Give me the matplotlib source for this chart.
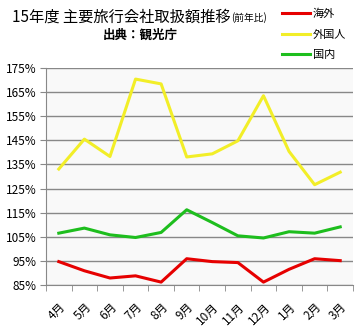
import matplotlib.pyplot as plt
from matplotlib.ticker import FixedLocator

plt.rcParams['font.family'] = ['Noto Sans CJK JP', 'DejaVu Sans']

months = ['4月', '5月', '6月', '7月', '8月', '9月', '10月', '11月', '12月', '1月', '2月', '3月']
overseas = [94.7, 90.9, 87.9, 88.8, 86.2, 95.9, 94.7, 94.3, 86.2, 91.5, 95.9, 95.1]
foreigners = [133.1, 145.5, 138.3, 170.4, 168.4, 138.1, 139.4, 144.8, 163.5, 140.4, 126.6, 131.8]
domestic = [106.5, 108.6, 105.8, 104.7, 106.8, 116.2, 110.9, 105.4, 104.5, 107.1, 106.5, 109.1]

series = [
    ('海外', overseas, '#e60000'),
    ('外国人', foreigners, '#f2ee28'),
    ('国内', domestic, '#1ebe1e'),
]

fig = plt.figure(figsize=(3.57, 3.27), dpi=100)
ax = fig.add_axes([46 / 357, 42 / 327, 307 / 357, 217 / 327])
ax.set_facecolor('#f9f9f9')

x = list(range(len(months)))
for name, vals, color in series:
    ax.plot(x, vals, color=color, linewidth=2.2, label=name)

ax.set_xlim(-0.5, len(months) - 0.5)
ax.set_ylim(85, 175)
ax.set_yticks(range(85, 176, 10))
ax.set_yticklabels([f'{v}%' for v in range(85, 176, 10)], fontsize=8.5)
ax.grid(axis='y', color='#888888', linewidth=1)
ax.set_axisbelow(True)

ax.set_xticks(x)
ax.set_xticklabels(months, rotation=45, ha='right', rotation_mode='anchor', fontsize=8.5)
ax.tick_params(axis='x', which='major', length=0, pad=11)
ax.xaxis.set_minor_locator(FixedLocator([i - 0.5 for i in range(len(months) + 1)]))
ax.tick_params(axis='x', which='minor', length=4, color='#888888')
ax.tick_params(axis='y', length=4, color='#888888', pad=3)

for side in ['top', 'right']:
    ax.spines[side].set_visible(False)
for side in ['left', 'bottom']:
    ax.spines[side].set_color('#888888')

fig.text(12 / 357, 1 - 17 / 327, '15年度 主要旅行会社取扱額推移', fontsize=11, va='center', ha='left')
fig.text(231 / 357, 1 - 18 / 327, '(前年比)', fontsize=7, va='center', ha='left')
fig.text(140 / 357, 1 - 35 / 327, '出典：観光庁', fontsize=9, fontweight='bold', va='center', ha='center')

fig.legend(loc='upper left', bbox_to_anchor=(276 / 357, 1 - 3 / 327), frameon=False, borderpad=0,
           fontsize=8, handlelength=2.6, handletextpad=0.2, labelspacing=0.95)

fig.savefig('out.png', dpi=100)
